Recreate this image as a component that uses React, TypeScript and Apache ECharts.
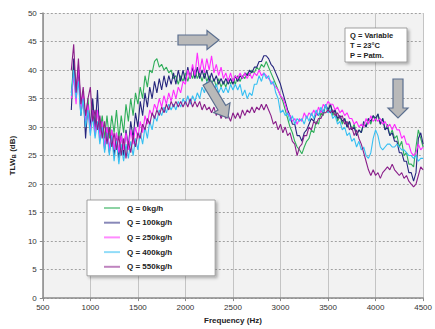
import React, { useEffect, useRef } from "react";
import * as echarts from "echarts";

const FREQ_START = 800;
const FREQ_STEP = 25;

const seriesNames = ["Q = 0kg/h", "Q = 100kg/h", "Q = 250kg/h", "Q = 400kg/h", "Q = 550kg/h"];
const seriesColors = ["#2fae5a", "#26267e", "#ff2cff", "#36bff2", "#8a1f8a"];

const q0 = [
  36, 41, 37, 40, 34, 36, 31, 35, 30, 34,
  30, 33, 29, 32, 28, 32, 28, 32, 29, 33,
  28, 32, 29, 34, 31, 35, 32, 36, 34, 37,
  35, 39, 37, 40, 39.5, 41.5, 42, 40.5, 41, 40,
  40.5, 39.5, 40, 38.5, 39, 37.5, 39, 38, 39.5, 38,
  39.5, 38.5, 40, 38.5, 39.5, 38, 39.5, 38, 39, 37.5,
  38.5, 37, 38.5, 37, 38, 37, 38.5, 37.5, 38.5, 37.5,
  39, 38, 39, 38.5, 39.5, 39, 40, 39.5, 40.5, 40,
  41, 40.5, 41.5, 40.5, 39.5, 38.5, 37.5, 36.5, 35.5, 34.5,
  33, 31.5, 30, 29, 27.5, 26.5, 26, 25.3, 26.5, 27.5,
  28, 29.5, 29, 31, 30.5, 32.5, 32, 34, 32.5, 34,
  32, 33, 31, 32, 30.5, 31.5, 30, 31, 29.5, 30.5,
  28.5, 29.5, 29, 30.5, 30, 31.5, 30.5, 32, 31, 32.3,
  30.5, 31.5, 29.5, 30.5, 28.5, 29.5, 28, 28.5, 26.5, 27.5,
  25, 25.5, 23.5, 23.5, 23, 26.5, 29.5, 28, 26.5,
];

const q100 = [
  33, 42, 36, 40, 32, 36, 28, 34, 30, 35,
  29, 36.5, 28, 31, 26, 30, 25.5, 29.5, 25, 29,
  24.5, 29, 25, 29.5, 26.5, 31, 28, 32.5, 30, 34.5,
  32, 36, 33.5, 37, 35, 38, 36, 38.5, 36.5, 39,
  37, 39, 37.5, 39.5, 37.5, 40, 38, 40, 38, 40.5,
  38.5, 40.5, 38.5, 40.5, 38.5, 40, 38.5, 40, 38, 39.5,
  38, 39, 37.5, 38.5, 37.5, 38.5, 37.5, 38.5, 37.5, 39,
  38, 39, 38.5, 39.5, 39, 40, 39.5, 40.5, 40.5, 41.5,
  41.5, 42.5, 42.5, 42, 41, 40.5, 39.5, 38.5, 37.5, 36,
  34.5, 33, 32, 30.5, 30.5, 28.5, 28.5, 27.5, 29, 29.5,
  30.5, 31.5, 31, 32.5, 32, 33, 32.5, 34, 33, 34,
  32.5, 33, 31.5, 32, 31, 31.5, 30, 31, 29.5, 30,
  28.5, 29.5, 29, 31, 30, 31.5, 31, 32, 31.5, 32.3,
  30.5, 31.5, 29.5, 30, 28.5, 29, 27.5, 27.5, 25.5, 25.5,
  24, 24, 22, 22, 20.5, 22, 28, 29, 27,
];

const q250 = [
  35, 39, 34, 41, 33, 36, 31, 34, 29, 33,
  28.5, 33, 28, 31, 26.5, 30, 26, 29.5, 26, 29,
  25.5, 28.5, 26, 29, 26, 29.5, 27, 30, 28, 31,
  29, 32, 30.5, 33, 32, 34, 33, 35, 33.5, 35.5,
  34, 36, 34.5, 36.5, 35, 37, 36, 38, 37.5, 40,
  38.5, 41, 39, 43, 39.5, 42, 39.5, 42, 40, 42.5,
  39.5, 41, 39, 40.5, 38.5, 39.5, 38, 39.5, 38, 39,
  38.5, 39.5, 38.5, 39.5, 38.5, 39.5, 38.5, 39.5, 39, 40,
  39, 39.5, 39, 38.5, 38, 37.5, 37, 36.5, 35.5, 35,
  34, 32.5, 32, 31, 31.5, 30.5, 31.5, 31, 32.5, 31.5,
  32.5, 32, 33, 32, 33.5, 32.5, 34, 33.5, 34.5, 34,
  34, 33, 33.5, 32.5, 33, 32, 32.5, 31.5, 31.5, 30.5,
  31, 30, 30.5, 30, 31.5, 30.5, 32, 31, 31.5, 31,
  31.5, 30.5, 31, 30, 30.5, 29.5, 30.5, 29.5, 29.5, 28,
  28.5, 27, 27, 25.5, 25, 25.5, 27, 26, 26.5,
];

const q400 = [
  35.5, 40, 35, 38, 32, 35, 30, 33, 28.5, 32,
  28, 31, 27, 30, 25.5, 29, 25, 28.5, 24, 27.5,
  23.5, 27, 24, 27, 24.5, 27.5, 25, 28, 26, 29,
  27, 30, 28, 31, 29.5, 32, 31, 33, 32, 33.5,
  32.5, 34, 33, 34, 33, 34.5, 33.5, 35, 34, 35.5,
  34, 35.5, 34.5, 36, 35, 37, 36, 38, 36.5, 38,
  36, 37.5, 36, 37, 36, 37, 36, 37.5, 36.5, 37.5,
  36.5, 37.5, 35.5, 36.5, 35, 36, 35.5, 37.5, 37.5, 39,
  38, 39.5, 38.5, 39, 37.5, 38, 36, 35, 32.5, 33,
  32, 32.5, 31, 32, 30.5, 31.5, 31, 31.5, 30.5, 32,
  31, 32.5, 31.5, 33, 32, 33.5, 32.5, 34, 32.5, 33,
  31.5, 32, 30.5, 31, 29.5, 30, 28.5, 29, 27.5, 28,
  26.5, 27.5, 26, 26.5, 25, 24.5, 25.5, 28, 29.5, 28.5,
  26.5, 26, 26.5, 27, 27, 26.5, 26.5, 27, 26.5, 26,
  26, 25.5, 25, 25, 24.5, 25, 24, 24.5, 24.5,
];

const q550 = [
  40, 44.5, 36, 42, 34, 37, 32, 35, 37, 31,
  33, 29.5, 32, 28, 31, 27, 30, 26.5, 29, 26,
  28.5, 25, 28, 24.5, 27.5, 25.5, 28.5, 26.5, 29, 28,
  30.5, 29.5, 31.5, 30.5, 32.5, 31.5, 33, 32, 33.5, 32.5,
  34, 33, 34.5, 33.5, 34.5, 33.5, 34.5, 33.5, 34.5, 33.5,
  35, 33.5, 34.5, 33.5, 34.5, 33, 34, 33, 33.5, 32.5,
  33.5, 32, 33, 31.5, 32.5, 31.5, 32, 31, 32.5, 31.5,
  32.5, 31.5, 33, 32, 33, 32.5, 33.5, 32.5, 33.5, 33,
  34, 33, 34, 33, 32, 30.5, 31, 29.5, 30.5, 29,
  30, 28.5, 29, 27.5, 27, 25, 26.5, 27, 28.5, 28.5,
  30, 29.5, 31, 30.5, 31.5, 31.5, 32.5, 32.5, 33, 32.5,
  33, 32, 32.5, 31.5, 32, 30.5, 31, 29.5, 30, 28.5,
  29.5, 28, 27, 25.5, 24, 22.5, 21.5, 22.5, 21.5, 22,
  21, 22, 22.5, 23, 22.5, 23.5, 22.5, 22, 21.5, 22,
  21, 21.5, 20.5, 20, 19.5, 20, 21.5, 23, 22.5,
];

const allSeries = [q0, q100, q250, q400, q550];

const noteLines = ["Q = Variable", "T = 23°C", "P = Patm."];

const FONT = "'Liberation Sans', Arial, sans-serif";

function arrowPts(x0: number, y0: number, x1: number, y1: number, bw: number, hw: number, hl: number) {
  const dx = x1 - x0, dy = y1 - y0;
  const L = Math.hypot(dx, dy);
  const ux = dx / L, uy = dy / L;
  const px = -uy, py = ux;
  const bx = x1 - ux * hl, by = y1 - uy * hl;
  return [
    [x0 + px * bw / 2, y0 + py * bw / 2],
    [bx + px * bw / 2, by + py * bw / 2],
    [bx + px * hw / 2, by + py * hw / 2],
    [x1, y1],
    [bx - px * hw / 2, by - py * hw / 2],
    [bx - px * bw / 2, by - py * bw / 2],
    [x0 - px * bw / 2, y0 - py * bw / 2],
  ];
}

const arrowStyle = { fill: "#b9b9b9", stroke: "#5b6f8f", lineWidth: 1.2 };

export default function App() {
  const ref = useRef<HTMLDivElement>(null);
  useEffect(() => {
    if (!ref.current) return;
    const chart = echarts.init(ref.current, null, { renderer: "svg" });
    const series = allSeries.map((vals, si) => ({
      name: seriesNames[si],
      type: "line",
      data: vals.map((v, i) => [FREQ_START + i * FREQ_STEP, v]),
      symbol: "none",
      showSymbol: false,
      lineStyle: { width: 1.1, color: seriesColors[si] },
      itemStyle: { color: seriesColors[si] },
      z: 2 + si,
    }));
    chart.setOption({
      animation: false,
      backgroundColor: "#ffffff",
      textStyle: { fontFamily: FONT },
      grid: {
        left: 39, right: 7, top: 13, bottom: 29,
        show: true, backgroundColor: "#f2f2f2", borderWidth: 0,
      },
      xAxis: {
        type: "value", min: 500, max: 4500, interval: 500,
        name: "Frequency (Hz)", nameLocation: "middle", nameGap: 10,
        nameTextStyle: { fontSize: 8, fontWeight: "bold", color: "#222", fontFamily: FONT },
        axisLine: { show: true, lineStyle: { color: "#8a8a8a", width: 1.5 } },
        axisTick: { show: true, length: 3, lineStyle: { color: "#8a8a8a" } },
        axisLabel: { fontSize: 8, color: "#333", margin: 5, fontFamily: FONT, formatter: (v: number) => String(v) },
        splitLine: { show: true, lineStyle: { color: "#c4c4c4", width: 1, type: "solid" } },
      },
      yAxis: {
        type: "value", min: 0, max: 50, interval: 5,
        name: "TLW{s|B} (dB)", nameLocation: "middle", nameGap: 16,
        nameTextStyle: {
          fontSize: 8, fontWeight: "bold", color: "#222", fontFamily: FONT,
          rich: { s: { fontSize: 6, fontWeight: "bold", color: "#222", fontFamily: FONT, verticalAlign: "bottom", padding: [4, 0, 0, 0] } },
        },
        axisLine: { show: true, lineStyle: { color: "#8a8a8a", width: 1.5 } },
        axisTick: { show: true, length: 3, lineStyle: { color: "#8a8a8a" } },
        axisLabel: { fontSize: 8, color: "#333", margin: 6, fontFamily: FONT },
        splitLine: { show: true, lineStyle: { color: "#8c8c8c", width: 0.8, type: [2, 2] } },
      },
      legend: {
        data: seriesNames,
        orient: "vertical",
        left: 87, top: 200,
        icon: "rect",
        itemWidth: 16, itemHeight: 2, itemGap: 6.7,
        padding: [4, 43, 5, 17],
        backgroundColor: "#ffffff",
        borderColor: "#8c8c8c", borderWidth: 0.8,
        shadowBlur: 3, shadowOffsetX: 2, shadowOffsetY: 2, shadowColor: "rgba(0,0,0,0.3)",
        textStyle: { fontSize: 8, fontWeight: "bold", color: "#222", fontFamily: FONT, padding: [0, 0, 0, 2] },
        itemStyle: { opacity: 0.55 },
      },
      graphic: [
        {
          type: "rect", shape: { x: 345, y: 28, width: 62, height: 34 },
          style: { fill: "#ffffff", stroke: "#8c8c8c", lineWidth: 0.8, shadowBlur: 3, shadowOffsetX: 2, shadowOffsetY: 2, shadowColor: "rgba(0,0,0,0.3)" },
          z: 100,
        },
        {
          type: "text", x: 350, y: 30,
          style: { text: noteLines.join("\n"), fontSize: 7.5, fontWeight: "bold", fontFamily: FONT, fill: "#222", lineHeight: 10 },
          z: 101,
        },
        { type: "polygon", shape: { points: arrowPts(178, 40, 219, 40, 10, 19, 12) }, style: arrowStyle, z: 100 },
        { type: "polygon", shape: { points: arrowPts(207, 83, 228, 118, 9, 19, 12) }, style: arrowStyle, z: 100 },
        { type: "polygon", shape: { points: arrowPts(398, 79, 398, 118, 10, 20, 10) }, style: arrowStyle, z: 100 },
      ],
      series,
    });
    return () => chart.dispose();
  }, []);
  return <div ref={ref} style={{ position: "fixed", left: 0, top: 0, width: 435, height: 329 }} />;
}
